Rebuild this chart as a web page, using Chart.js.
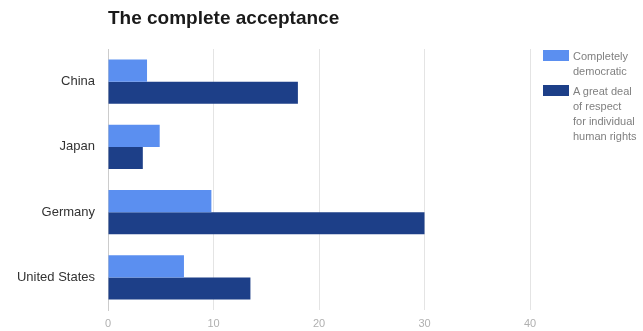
<!DOCTYPE html>
<html>
<head>
<meta charset="utf-8">
<script src="https://cdn.jsdelivr.net/npm/chart.js@4"></script>
<style>
  body { margin:0; background:#fff; font-family:Arial, "Liberation Sans", sans-serif; }
  #wrap { position:relative; width:643px; height:331px; }
  #title { position:absolute; left:108px; top:7px; font-size:19px; font-weight:bold; color:#1a1a1a; }
  #legend { position:absolute; left:543px; top:49px; width:100px; font-size:11px; color:#808080; line-height:14.7px; }
  .item { display:flex; align-items:flex-start; margin-bottom:6px; }
  .sw { width:26px; height:11px; margin-right:4px; margin-top:1px; flex:none; }
</style>
</head>
<body>
<div id="wrap">
  <canvas id="c" width="643" height="331"></canvas>
  <div id="title">The complete acceptance</div>
  <div id="legend"></div>
</div>
<script>
const countries = ['China', 'Japan', 'Germany', 'United States'];
const democratic = [3.7, 4.9, 9.8, 7.2];
const respect = [18, 3.3, 30, 13.5];
const seriesNames = [['Completely', 'democratic'], ['A great deal', 'of respect', 'for individual', 'human rights']];
const colors = ['#5b8ff0', '#1d3f88'];
const xTicks = [0, 10, 20, 30, 40];

document.getElementById('legend').innerHTML = seriesNames.map((n, i) =>
  `<div class="item"><div class="sw" style="background:${colors[i]}"></div><div>${n.join('<br>')}</div></div>`).join('');

new Chart(document.getElementById('c'), {
  type: 'bar',
  data: { labels: countries, datasets: [
    { label: seriesNames[0].join(' '), data: democratic, backgroundColor: colors[0] },
    { label: seriesNames[1].join(' '), data: respect, backgroundColor: colors[1] },
  ]},
  options: {
    indexAxis: 'y', responsive: false, animation: false,
    categoryPercentage: 0.68, barPercentage: 1,
    layout: { padding: { top: 49, right: 113, left: 0, bottom: 0 } },
    plugins: { legend: { display: false }, tooltip: { enabled: false } },
    scales: {
      x: {
        min: 0, max: 40,
        afterBuildTicks: s => { s.ticks = xTicks.map(v => ({ value: v })); },
        afterFit: s => { s.height = 21; },
        grid: { color: '#e4e4e4', drawTicks: false },
        border: { display: false },
        ticks: { color: '#b0b0b0', font: { size: 11 }, padding: 7 }
      },
      y: {
        afterFit: s => { s.width = 108; },
        grid: { display: false },
        border: { display: true, color: '#cccccc' },
        ticks: { color: '#333', font: { size: 13 }, padding: 5 }
      }
    }
  }
});
</script>
</body>
</html>
